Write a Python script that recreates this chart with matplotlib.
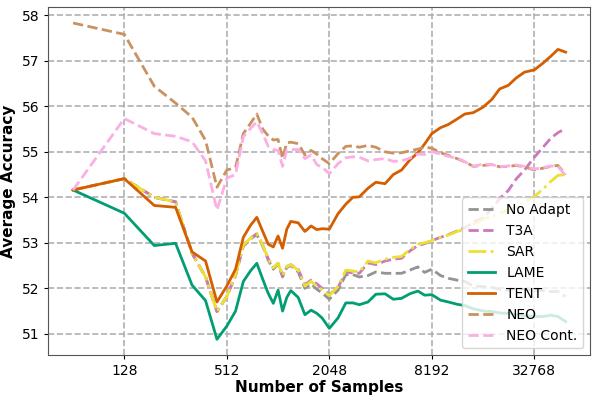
import numpy as np
import matplotlib.pyplot as plt

samples = [64, 128, 192, 256, 320, 384, 448, 512, 576, 640, 704, 768, 832, 896, 960, 1024,
           1088, 1152, 1216, 1344, 1472, 1600, 1728, 1856, 2048, 2304, 2560, 2816, 3072,
           3456, 3840, 4352, 4864, 5440, 6080, 6784, 7424, 8192, 9216, 10240, 11520, 12800,
           14336, 16384, 18432, 20480, 23040, 25600, 28672, 32768, 36864, 40960, 45056, 50000]

no_adapt = [54.16, 54.41, 54.00, 53.90, 52.77, 52.25, 51.49, 51.82, 52.28, 52.92, 53.08, 53.18,
            52.93, 52.62, 52.42, 52.53, 52.25, 52.46, 52.50, 52.36, 52.00, 52.10, 51.98, 51.90,
            51.76, 51.96, 52.30, 52.30, 52.25, 52.28, 52.36, 52.33, 52.33, 52.33, 52.40, 52.47,
            52.35, 52.42, 52.28, 52.22, 52.18, 52.15, 52.05, 52.04, 52.02, 51.98, 51.96, 52.00,
            51.98, 51.96, 51.95, 51.93, 51.93, 51.82]
t3a = [54.16, 54.41, 54.00, 53.90, 52.77, 52.25, 51.49, 51.82, 52.30, 52.95, 53.10, 53.20,
       52.95, 52.65, 52.45, 52.55, 52.28, 52.48, 52.52, 52.42, 52.08, 52.18, 52.10, 52.00,
       51.86, 52.02, 52.36, 52.34, 52.33, 52.56, 52.52, 52.60, 52.64, 52.66, 52.82, 52.94,
       52.98, 53.05, 53.12, 53.18, 53.26, 53.33, 53.45, 53.55, 53.75, 53.97, 54.15, 54.40,
       54.60, 54.88, 55.10, 55.30, 55.42, 55.51]
sar = [54.16, 54.41, 54.00, 53.90, 52.77, 52.25, 51.49, 51.82, 52.30, 52.95, 53.10, 53.20,
       52.95, 52.65, 52.45, 52.55, 52.28, 52.48, 52.52, 52.40, 52.05, 52.15, 52.05, 51.97,
       51.84, 52.04, 52.40, 52.38, 52.36, 52.60, 52.56, 52.64, 52.68, 52.70, 52.85, 52.97,
       53.00, 53.05, 53.12, 53.17, 53.25, 53.30, 53.40, 53.52, 53.58, 53.65, 53.72, 53.78,
       53.90, 54.02, 54.18, 54.35, 54.48, 54.50]
lame = [54.16, 53.65, 52.94, 52.99, 52.07, 51.73, 50.88, 51.17, 51.50, 52.15, 52.38, 52.55,
        52.20, 51.89, 51.67, 51.96, 51.50, 51.80, 51.95, 51.80, 51.42, 51.52, 51.45, 51.35,
        51.12, 51.35, 51.68, 51.68, 51.64, 51.70, 51.87, 51.88, 51.76, 51.78, 51.88, 51.94,
        51.85, 51.86, 51.74, 51.70, 51.65, 51.62, 51.55, 51.50, 51.49, 51.46, 51.45, 51.42,
        51.40, 51.38, 51.38, 51.41, 51.38, 51.27]
tent = [54.16, 54.41, 53.82, 53.78, 52.80, 52.60, 51.70, 52.05, 52.42, 53.12, 53.38, 53.56,
        53.25, 52.97, 52.91, 53.15, 52.88, 53.30, 53.47, 53.44, 53.25, 53.37, 53.29, 53.31,
        53.30, 53.64, 53.85, 54.00, 54.01, 54.20, 54.33, 54.30, 54.50, 54.60, 54.82, 54.98,
        55.17, 55.40, 55.53, 55.60, 55.72, 55.83, 55.86, 55.98, 56.15, 56.38, 56.46, 56.62,
        56.75, 56.80, 56.95, 57.10, 57.25, 57.19]
neo = [57.83, 57.58, 56.44, 56.07, 55.76, 55.25, 54.22, 54.60, 54.65, 55.40, 55.62, 55.83,
       55.50, 55.35, 55.26, 55.27, 54.85, 55.20, 55.21, 55.18, 54.93, 55.03, 54.95, 54.85,
       54.74, 54.96, 55.12, 55.13, 55.10, 55.14, 55.10, 55.00, 54.97, 54.98, 55.02, 55.06,
       55.10, 55.08, 54.98, 54.92, 54.85, 54.78, 54.68, 54.70, 54.72, 54.67, 54.68, 54.70,
       54.67, 54.60, 54.64, 54.68, 54.70, 54.50]
neo_cont = [54.16, 55.73, 55.40, 55.34, 55.22, 54.80, 53.72, 54.42, 54.50, 55.33, 55.51, 55.66,
            55.40, 55.12, 55.05, 55.03, 54.68, 55.04, 55.05, 55.05, 54.85, 54.93, 54.72, 54.66,
            54.52, 54.74, 54.87, 54.89, 54.88, 54.80, 54.83, 54.85, 54.79, 54.80, 54.86, 54.95,
            54.94, 55.00, 54.95, 54.90, 54.86, 54.78, 54.68, 54.73, 54.72, 54.67, 54.69, 54.71,
            54.68, 54.62, 54.65, 54.69, 54.68, 54.48]

series = [("No Adapt", no_adapt, '#949494', '--'),
          ("T3A", t3a, '#cc78bc', '--'),
          ("SAR", sar, '#ece133', '-.'),
          ("LAME", lame, '#029e73', '-'),
          ("TENT", tent, '#d55e00', '-'),
          ("NEO", neo, '#ca9161', '--'),
          ("NEO Cont.", neo_cont, '#fbafe4', '--')]

fig = plt.figure(figsize=(5.98, 3.99), dpi=100)
ax = fig.add_axes([0.081, 0.11, 0.906, 0.872])

for name, vals, col, ls in series:
    ax.plot(samples, vals, color=col, linestyle=ls, linewidth=2, label=name)

ax.set_xscale('log', base=2)
ax.set_xticks([128, 512, 2048, 8192, 32768])
ax.set_xticklabels(['128', '512', '2048', '8192', '32768'])
ax.minorticks_off()
ax.set_yticks(range(51, 59))
ax.tick_params(labelsize=10, length=3)
ax.grid(True, linestyle='--', color='#b0b0b0', linewidth=1.2)
for s in ax.spines.values():
    s.set_color('#555555')

ax.set_xlabel('Number of Samples', fontsize=11, fontweight='bold', labelpad=1)
ax.set_ylabel('Average Accuracy', fontsize=11, fontweight='bold', labelpad=4)
ax.legend(loc='lower right', fontsize=10, framealpha=0.8)

fig.savefig('out.png', dpi=100)
